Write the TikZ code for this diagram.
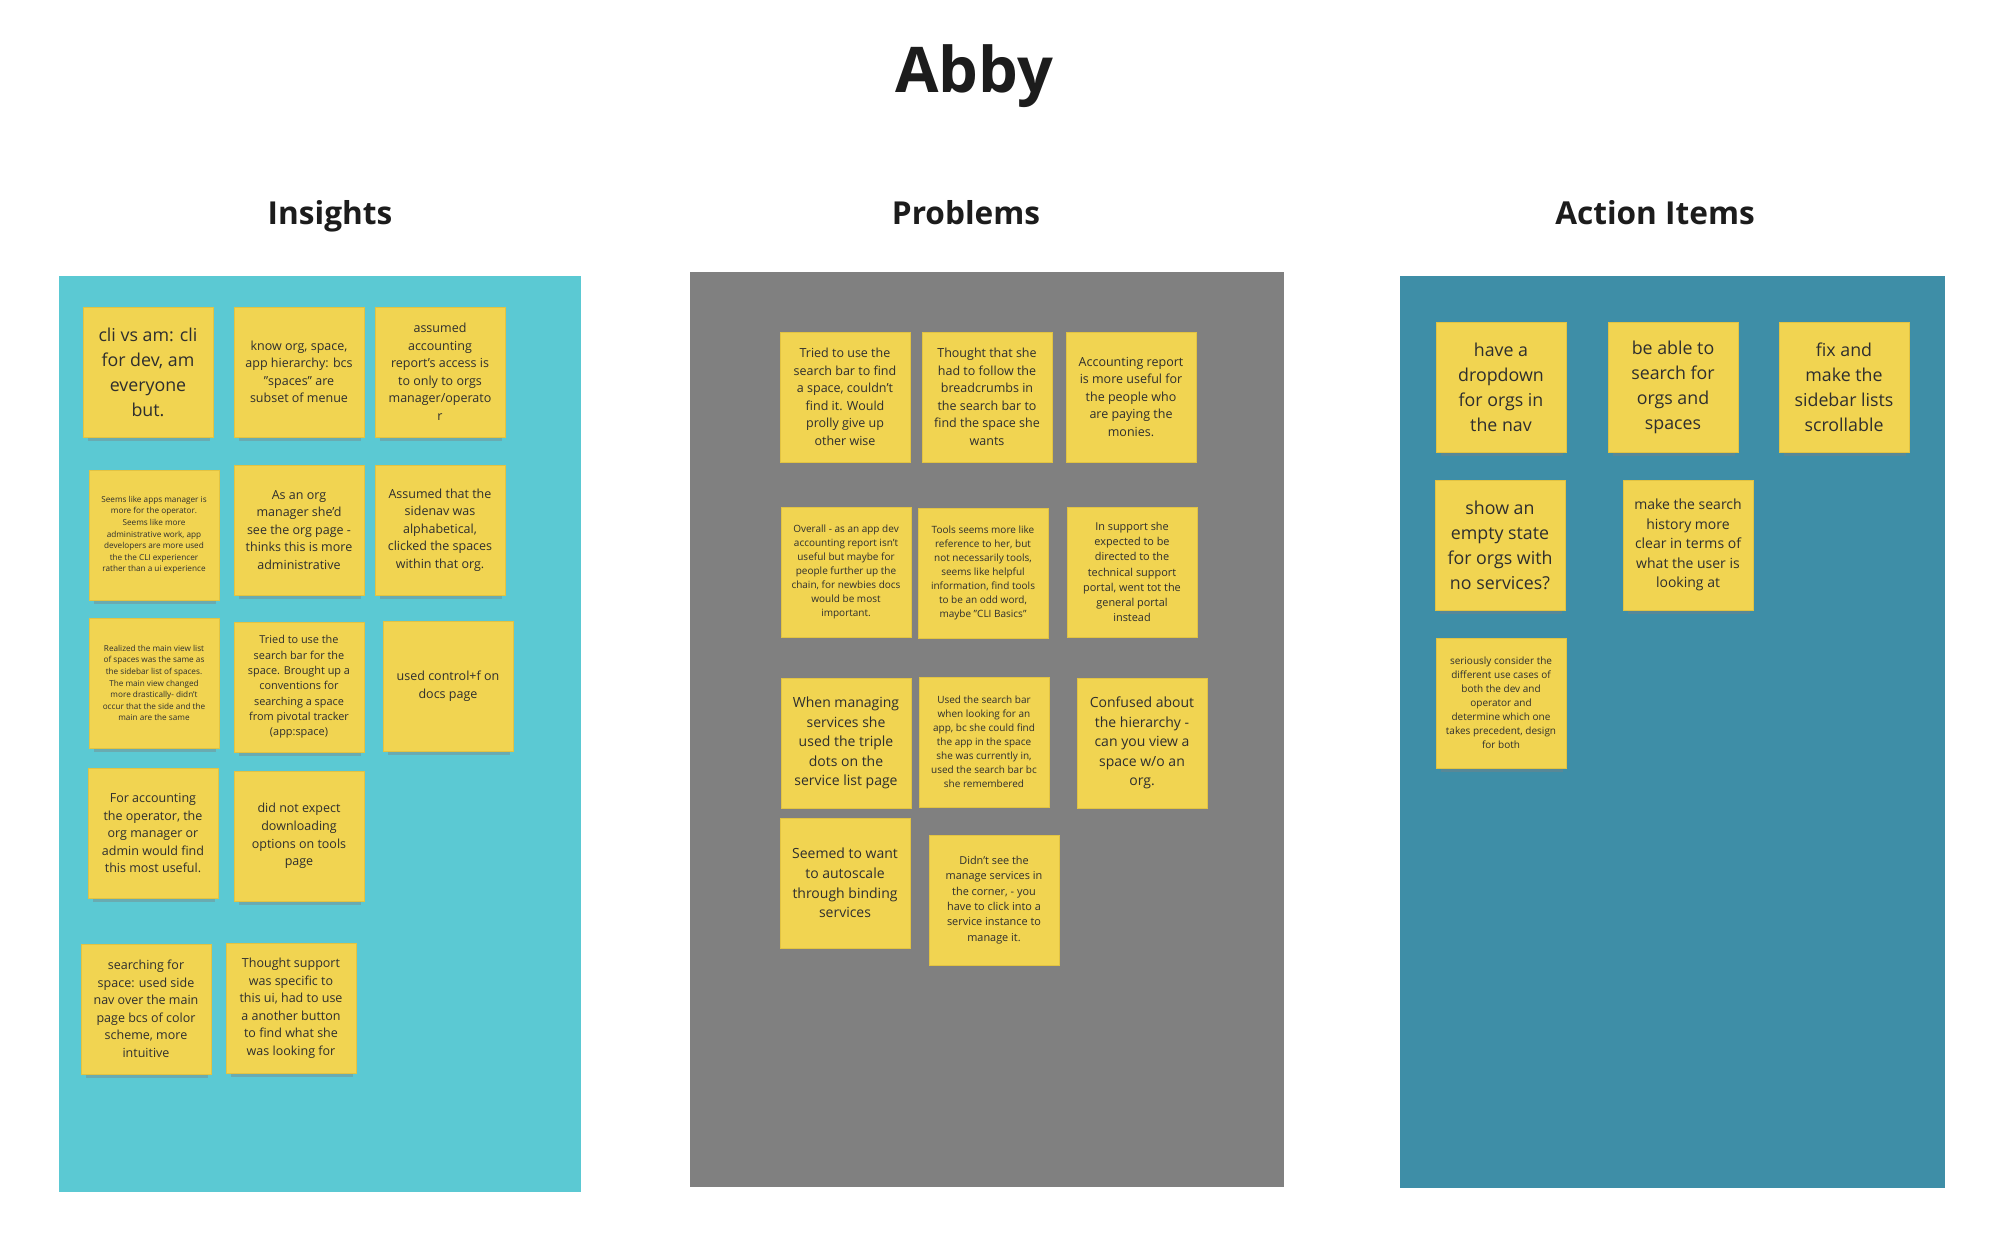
\documentclass[tikz,border=0pt]{standalone}
\usepackage{fontspec}
\setmainfont{Open Sans}
\usetikzlibrary{shadows}

\definecolor{insightbg}{HTML}{5BC9D3}
\definecolor{problembg}{HTML}{808080}
\definecolor{actionbg}{HTML}{3E8EA7}
\definecolor{notefill}{HTML}{F1D451}
\definecolor{noteedge}{HTML}{E2C342}
\definecolor{notetext}{HTML}{2E2E2E}
\definecolor{headtext}{HTML}{1C1C1C}

\begin{document}
\begin{tikzpicture}[x=0.5pt, y=-0.5pt,
  note/.style={fill=notefill, draw=noteedge, line width=0.4pt, text=notetext,
    minimum width=65pt, minimum height=65pt, inner sep=0pt, align=center,
    drop shadow={shadow xshift=0.5pt, shadow yshift=-4pt, shadow scale=0.94, opacity=0.4}},
  fbig/.style={font=\fontsize{8.9}{12.5}\selectfont},
  flg/.style={font=\fontsize{7}{9.8}\selectfont},
  fmd/.style={font=\fontsize{6.25}{8.75}\selectfont},
  fsm/.style={font=\fontsize{5.45}{7.65}\selectfont},
  fxs/.style={font=\fontsize{5}{7}\selectfont},
  ftiny/.style={font=\fontsize{4.1}{5.8}\selectfont},
  heading/.style={anchor=base, text=headtext, font=\bfseries\fontsize{15.8}{19}\selectfont}]

\useasboundingbox (0,0) rectangle (2006,1234);
\fill[white] (0,0) rectangle (2006,1234);

\node[anchor=base, text=headtext, font=\bfseries\fontsize{31.5}{38}\selectfont] (title) at (974,93) {Abby};

% panels
\fill[insightbg] (59,276) rectangle (581,1192);
\fill[problembg] (690,272) rectangle (1284,1187);
\fill[actionbg] (1400,276) rectangle (1945,1188);

\node[heading] (insights) at (330,225) {Insights};
\node[heading] (problems) at (966,225) {Problems};
\node[heading] (actions) at (1655,225) {Action Items};

% insights
\begin{scope}[every node/.append style={note}]
\node[fbig] (i1) at (148,372) {cli vs am: cli\\for dev, am\\everyone\\but.};
\node[fmd] (i2) at (299,372) {know org, space,\\app hierarchy: bcs\\"spaces" are\\subset of menue};
\node[fmd] (i3) at (440,372) {assumed\\accounting\\report's access is\\to only to orgs\\manager/operato\\r};
\node[ftiny] (i4) at (154,535) {Seems like apps manager is\\more for the operator.\\Seems like more\\administrative work, app\\developers are more used\\the the CLI experiencer\\rather than a ui experience};
\node[fmd] (i5) at (299,530) {As an org\\manager she’d\\see the org page -\\thinks this is more\\administrative};
\node[fmd] (i6) at (440,530) {Assumed that the\\sidenav was\\alphabetical,\\clicked the spaces\\within that org.};
\node[ftiny] (i7) at (154,683) {Realized the main view list\\of spaces was the same as\\the sidebar list of spaces.\\The main view changed\\more drastically- didn't\\occur that the side and the\\main are the same};
\node[fsm] (i8) at (299,687) {Tried to use the\\search bar for the\\space. Brought up a\\conventions for\\searching a space\\from pivotal tracker\\(app:space)};
\node[fmd] (i9) at (448,686) {used control+f on\\docs page};
\node[fmd] (i10) at (153,833) {For accounting\\the operator, the\\org manager or\\admin would find\\this most useful.};
\node[fmd] (i11) at (299,836) {did not expect\\downloading\\options on tools\\page};
\node[fmd] (i12) at (146,1009) {searching for\\space: used side\\nav over the main\\page bcs of color\\scheme, more\\intuitive};
\node[fmd] (i13) at (291,1008) {Thought support\\was specific to\\this ui, had to use\\a another button\\to find what she\\was looking for};
\end{scope}

% problems
\begin{scope}[every node/.append style={note}]
\node[fmd] (p1) at (845,397) {Tried to use the\\search bar to find\\a space, couldn’t\\find it. Would\\prolly give up\\other wise};
\node[fmd] (p2) at (987,397) {Thought that she\\had to follow the\\breadcrumbs in\\the search bar to\\find the space she\\wants};
\node[fmd] (p3) at (1131,397) {Accounting report\\is more useful for\\the people who\\are paying the\\monies.};
\node[fxs] (p4) at (846,572) {Overall - as an app dev\\accounting report isn't\\useful but maybe for\\people further up the\\chain, for newbies docs\\would be most\\important.};
\node[fxs] (p5) at (983,573) {Tools seems more like\\reference to her, but\\not necessarily tools,\\seems like helpful\\information, find tools\\to be an odd word,\\maybe "CLI Basics"};
\node[fsm] (p6) at (1132,572) {In support she\\expected to be\\directed to the\\technical support\\portal, went tot the\\general portal\\instead};
\node[flg] (p7) at (846,743) {When managing\\services she\\used the triple\\dots on the\\service list page};
\node[fxs] (p8) at (984,742) {Used the search bar\\when looking for an\\app, bc she could find\\the app in the space\\she was currently in,\\used the search bar bc\\she remembered};
\node[flg] (p9) at (1142,743) {Confused about\\the hierarchy -\\can you view a\\space w/o an\\org.};
\node[flg] (p10) at (845,883) {Seemed to want\\to autoscale\\through binding\\services};
\node[fsm] (p11) at (994,900) {Didn’t see the\\manage services in\\the corner, - you\\have to click into a\\service instance to\\manage it.};
\end{scope}

% action items
\begin{scope}[every node/.append style={note}]
\node[fbig] (a1) at (1501,387) {have a\\dropdown\\for orgs in\\the nav};
\node[fbig] (a2) at (1673,387) {be able to\\search for\\orgs and\\spaces};
\node[fbig] (a3) at (1844,387) {fix and\\make the\\sidebar lists\\scrollable};
\node[fbig] (a4) at (1500,545) {show an\\empty state\\for orgs with\\no services?};
\node[flg] (a5) at (1688,545) {make the search\\history more\\clear in terms of\\what the user is\\looking at};
\node[fxs] (a6) at (1501,703) {seriously consider the\\different use cases of\\both the dev and\\operator and\\determine which one\\takes precedent, design\\for both};
\end{scope}

\end{tikzpicture}
\end{document}
